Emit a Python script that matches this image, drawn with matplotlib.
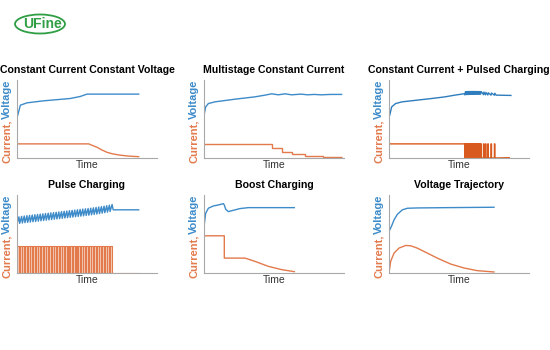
# Charging strategies overview - six small current/voltage sketches
import matplotlib.pyplot as plt
from matplotlib.patches import Ellipse

plt.rcParams['font.family'] = ['Liberation Sans', 'DejaVu Sans']

BLUE = '#3d8bc9'
ORANGE = '#e27a4c'
DARK_OR = '#d95a1e'
GREY = '#a8a8a8'

titles = ['Constant Current Constant Voltage', 'Multistage Constant Current',
          'Constant Current + Pulsed Charging', 'Pulse Charging',
          'Boost Charging', 'Voltage Trajectory']

# --- 1: CCCV
cccv_vx = [0, 0.5, 2.4, 7.1, 19.0, 38.1, 45.2, 50.0, 86.9]
cccv_vy = [0.526, 0.547, 0.677, 0.707, 0.733, 0.763, 0.789, 0.819, 0.819]
cccv_ix = [0, 51.2, 54.0, 57.1, 60.5, 64.3, 68.5, 73.8, 80.0, 86.9]
cccv_iy = [0.181, 0.181, 0.16, 0.138, 0.104, 0.073, 0.052, 0.036, 0.024, 0.017]

# --- 2: multistage CC
ms_vx = [0, 1.2, 3.1, 7.9, 22.1, 36.4, 43.6, 48.3, 53.1, 57.9, 62.6, 69.3, 74.0, 78.8, 83.6, 90.7, 98.3]
ms_vy = [0.547, 0.655, 0.698, 0.72, 0.754, 0.784, 0.806, 0.823, 0.81, 0.823, 0.81, 0.819, 0.81, 0.815, 0.81, 0.815, 0.815]
ms_steps = [0, 48.8, 55.5, 63.1, 72.1, 85.2, 98.3]
ms_levels = [0.181, 0.129, 0.082, 0.052, 0.030, 0.009]

# --- 3: CC + pulsed
ccp_vx = [0, 0.5, 1.9, 4.7, 9.4, 30.6, 40.0, 47.1, 54.1]
ccp_vy = [0.547, 0.547, 0.655, 0.698, 0.72, 0.763, 0.784, 0.806, 0.825]
ccp_on = [54.1, 54.9, 55.7, 56.5, 57.3, 58.1, 58.9, 59.7, 60.5, 61.3, 62.1, 62.9,
          63.7, 64.5, 65.3, 67.5, 68.9, 70.6, 72.9, 75.3]
ccp_off = [54.7, 55.5, 56.3, 57.1, 57.9, 58.7, 59.5, 60.3, 61.1, 61.9, 62.7, 63.5,
           64.3, 65.1, 65.9, 67.8, 69.2, 70.9, 73.2, 75.6]
ccp_vlo = [0.81, 0.812, 0.813, 0.814, 0.815, 0.816, 0.816, 0.817, 0.817, 0.818, 0.818, 0.818,
           0.818, 0.818, 0.818, 0.812, 0.81, 0.808, 0.806, 0.805]
ccp_vhi = [0.85, 0.851, 0.852, 0.853, 0.853, 0.853, 0.853, 0.853, 0.853, 0.853, 0.852, 0.852,
           0.852, 0.851, 0.851, 0.845, 0.84, 0.836, 0.833, 0.83]
ccp_vend = [(76.5, 0.806), (87.1, 0.802)]
ccp_cc = 0.181
ccp_end = 85.9

# --- 4: pulse charging
pc_on = [0.0, 1.9, 3.8, 5.7, 7.6, 9.5, 11.4, 13.3, 15.2, 17.1, 19.0, 20.9, 22.8, 24.7,
         26.6, 28.5, 30.4, 32.3, 34.2, 36.1, 38.0, 39.9, 41.8, 43.7, 45.6, 47.5, 49.4,
         51.3, 53.2, 55.1, 57.0, 58.9, 60.8, 62.7, 64.6, 66.5]
pc_width = 1.4
pc_level = 0.34
pc_vlo = [0.63, 0.636, 0.641, 0.645, 0.649, 0.653, 0.657, 0.661, 0.665, 0.669, 0.673, 0.677,
          0.681, 0.685, 0.689, 0.693, 0.697, 0.701, 0.705, 0.709, 0.713, 0.717, 0.721, 0.725,
          0.729, 0.733, 0.737, 0.741, 0.746, 0.751, 0.756, 0.761, 0.767, 0.773, 0.78, 0.788]
pc_swing = 0.09
pc_vstart = 0.60
pc_vrest = 0.81
pc_end = 86.9

# --- 5: boost
bo_vx = [0, 1.2, 3.1, 6.7, 10.2, 13.8, 14.5, 15.5, 17.4, 21.0, 25.7, 31.7, 64.5]
bo_vy = [0.596, 0.766, 0.83, 0.86, 0.872, 0.889, 0.872, 0.817, 0.787, 0.804, 0.826, 0.838, 0.838]
bo_ix = [0, 14.5, 14.5, 29.3, 36.4, 46.0, 55.5, 64.5]
bo_iy = [0.477, 0.477, 0.191, 0.191, 0.149, 0.085, 0.043, 0.017]

# --- 6: voltage trajectory
vt_vx = [0, 1.7, 3.6, 6.0, 9.5, 13.1, 20.2, 41.7, 75.0]
vt_vy = [0.532, 0.596, 0.681, 0.753, 0.809, 0.83, 0.834, 0.838, 0.843]
vt_ix = [0, 1.2, 3.6, 7.1, 11.9, 15.5, 20.2, 27.4, 34.5, 44.0, 53.6, 63.1, 75.0]
vt_iy = [0.0, 0.149, 0.255, 0.319, 0.353, 0.349, 0.319, 0.255, 0.191, 0.115, 0.064, 0.03, 0.013]


fig = plt.figure(figsize=(5.5, 3.5), dpi=100)

# logo
fig.patches.append(Ellipse((40 / 550, 1 - 24 / 350), 50 / 550, 19 / 350, transform=fig.transFigure,
                           fill=False, edgecolor='#2f9e44', linewidth=1.3))
fig.text(42 / 550, 1 - 24.5 / 350, 'UFine', color='#2f9e44', fontsize=10, fontweight='bold',
         ha='center', va='center')

lefts = [17 / 550, 204 / 550, 389 / 550]
bottoms = [(350 - 158) / 350, (350 - 273) / 350]
w = 140 / 550
h = 78 / 350

axes = []
for r in range(2):
    for c in range(3):
        ax = fig.add_axes([lefts[c], bottoms[r], w, h])
        ax.set_xlim(0, 100)
        ax.set_ylim(0, 1)
        ax.set_xticks([])
        ax.set_yticks([])
        for s in ['top', 'right']:
            ax.spines[s].set_visible(False)
        for s in ['left', 'bottom']:
            ax.spines[s].set_color(GREY)
            ax.spines[s].set_linewidth(0.8)
        ax.set_title(titles[r * 3 + c], fontsize=7.6, fontweight='bold', pad=5)
        ax.text(0.5, -0.09, 'Time', transform=ax.transAxes, ha='center', va='center',
                fontsize=7.5, color='#333333')
        ax.text(-0.072, -0.06, 'Current,', transform=ax.transAxes, rotation=90, ha='center',
                va='bottom', fontsize=8, fontweight='bold', color=ORANGE)
        ax.text(-0.072, 1.01, 'Voltage', transform=ax.transAxes, rotation=90, ha='center',
                va='top', fontsize=8, fontweight='bold', color=BLUE)
        axes.append(ax)

lw = 1.0

# 1
axes[0].plot(cccv_vx, cccv_vy, color=BLUE, lw=lw)
axes[0].plot(cccv_ix, cccv_iy, color=ORANGE, lw=lw)

# 2
axes[1].plot(ms_vx, ms_vy, color=BLUE, lw=lw)
axes[1].stairs(ms_levels, ms_steps, color=ORANGE, lw=lw, baseline=None)

# 3
ix, iy = [0, ccp_on[0]], [ccp_cc, ccp_cc]
vx, vy = list(ccp_vx), list(ccp_vy)
for a, b, lo, hi in zip(ccp_on, ccp_off, ccp_vlo, ccp_vhi):
    ix += [a, a, b, b]
    iy += [0, ccp_cc, ccp_cc, 0]
    vx += [a, b]
    vy += [lo, hi]
ix += [ccp_end]
iy += [0.004]
for x, y in ccp_vend:
    vx.append(x)
    vy.append(y)
axes[2].plot(vx, vy, color='#2f7dbd', lw=lw)
axes[2].plot(ix, iy, color=DARK_OR, lw=lw)

# 4
ix, iy = [], []
vx, vy = [0], [pc_vstart]
for a, lo in zip(pc_on, pc_vlo):
    b = a + pc_width
    ix += [a, a, b, b]
    iy += [0.004, pc_level, pc_level, 0.004]
    vx += [a, b]
    vy += [lo, lo + pc_swing]
ix += [pc_end]
iy += [0.004]
vx += [pc_on[-1] + pc_width + 0.8, pc_end]
vy += [pc_vrest, pc_vrest]
axes[3].fill_between(ix, iy, color=ORANGE, alpha=0.35, lw=0)
axes[3].plot(ix, iy, color=ORANGE, lw=0.8)
axes[3].plot(vx, vy, color=BLUE, lw=lw)

# 5
axes[4].plot(bo_vx, bo_vy, color=BLUE, lw=lw)
axes[4].plot(bo_ix, bo_iy, color=ORANGE, lw=lw)

# 6
axes[5].plot(vt_vx, vt_vy, color=BLUE, lw=lw)
axes[5].plot(vt_ix, vt_iy, color=ORANGE, lw=lw)

fig.savefig('out.png', dpi=100)
